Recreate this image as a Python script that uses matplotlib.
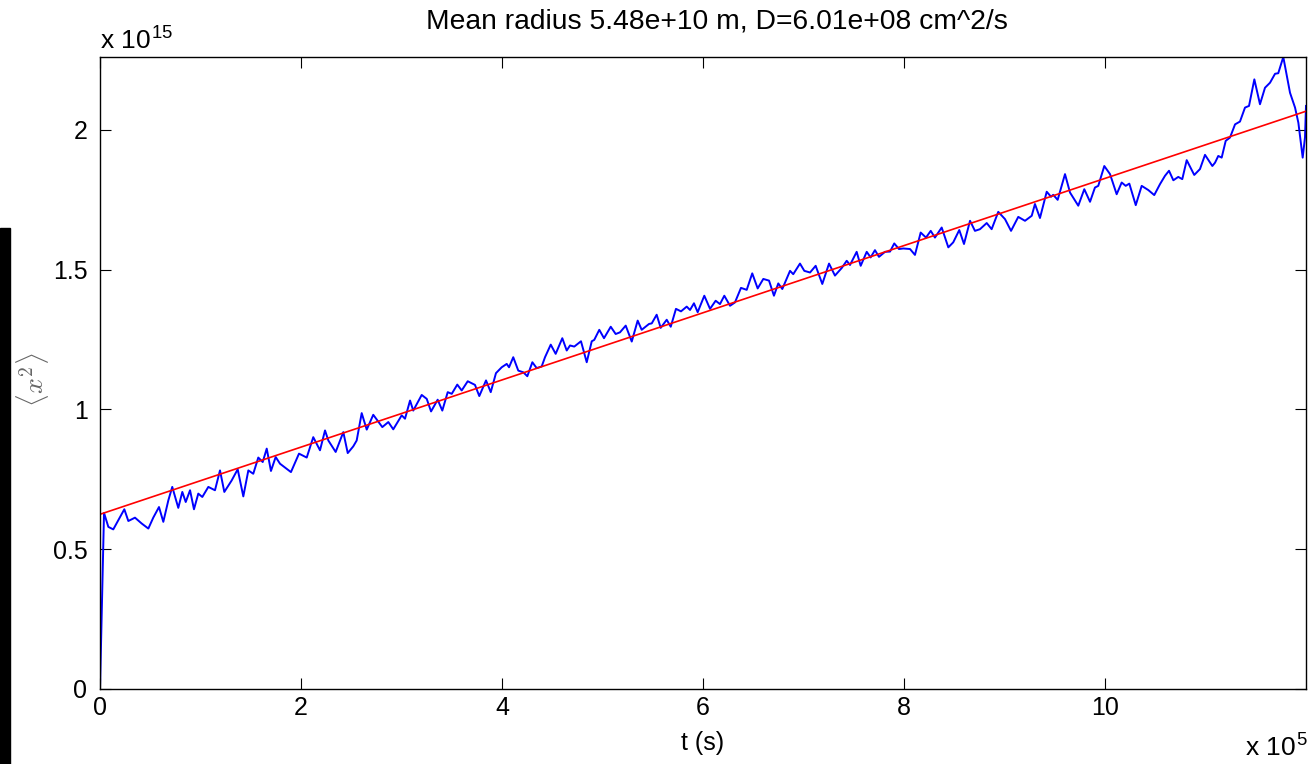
import matplotlib
matplotlib.use("Agg")
import matplotlib.pyplot as plt
from matplotlib.patches import Rectangle

# <x^2> versus time, t in units of 1e5 s, msd in units of 1e15
t_vals = [
    0.0, 0.04, 0.083, 0.132, 0.182, 0.242, 0.282, 0.348, 0.415, 0.481,
    0.530, 0.587, 0.630, 0.680, 0.719, 0.779, 0.819, 0.853, 0.896, 0.935,
    0.978, 1.018, 1.078, 1.144, 1.194, 1.237, 1.310, 1.370, 1.426, 1.476,
    1.525, 1.575, 1.619, 1.659, 1.701, 1.748, 1.791, 1.900, 1.980, 2.057,
    2.122, 2.189, 2.239, 2.272, 2.345, 2.421, 2.465, 2.520, 2.554, 2.604,
    2.654, 2.719, 2.809, 2.869, 2.918, 3.002, 3.035, 3.085, 3.117, 3.201,
    3.251, 3.294, 3.360, 3.406, 3.460, 3.500, 3.555, 3.599, 3.659, 3.731,
    3.774, 3.841, 3.888, 3.940, 3.997, 4.047, 4.070, 4.112, 4.162, 4.212,
    4.252, 4.302, 4.345, 4.395, 4.428, 4.485, 4.534, 4.600, 4.644, 4.677,
    4.719, 4.786, 4.843, 4.893, 4.918, 4.968, 5.015, 5.082, 5.131, 5.174,
    5.231, 5.291, 5.350, 5.390, 5.463, 5.490, 5.539, 5.579, 5.639, 5.679,
    5.731, 5.781, 5.838, 5.871, 5.910, 5.947, 6.013, 6.070, 6.126, 6.169,
    6.212, 6.269, 6.318, 6.378, 6.435, 6.490, 6.544, 6.600, 6.657, 6.706,
    6.749, 6.789, 6.866, 6.898, 6.965, 7.008, 7.065, 7.121, 7.187, 7.254,
    7.313, 7.380, 7.430, 7.463, 7.529, 7.569, 7.629, 7.668, 7.711, 7.751,
    7.811, 7.861, 7.903, 7.950, 7.993, 8.060, 8.109, 8.166, 8.219, 8.266,
    8.308, 8.375, 8.441, 8.490, 8.550, 8.597, 8.657, 8.706, 8.756, 8.823,
    8.872, 8.938, 9.005, 9.065, 9.137, 9.204, 9.271, 9.303, 9.353, 9.420,
    9.463, 9.485, 9.529, 9.602, 9.652, 9.734, 9.794, 9.851, 9.900, 9.933,
    9.993, 10.050, 10.116, 10.166, 10.206, 10.242, 10.306, 10.365, 10.431, 10.490,
    10.547, 10.597, 10.637, 10.680, 10.729, 10.769, 10.813, 10.888, 10.945, 10.995,
    11.068, 11.095, 11.127, 11.161, 11.201, 11.244, 11.294, 11.343, 11.393, 11.433,
    11.486, 11.542, 11.592, 11.642, 11.692, 11.724, 11.774, 11.841, 11.891, 11.924,
    11.967, 11.990, 12.0,
]
msd_vals = [
    0.0, 0.630, 0.580, 0.571, 0.604, 0.643, 0.601, 0.613, 0.592, 0.574,
    0.613, 0.651, 0.598, 0.675, 0.723, 0.648, 0.705, 0.669, 0.711, 0.643,
    0.699, 0.687, 0.723, 0.711, 0.782, 0.705, 0.746, 0.786, 0.689, 0.782,
    0.770, 0.828, 0.812, 0.860, 0.780, 0.830, 0.806, 0.776, 0.842, 0.828,
    0.901, 0.854, 0.925, 0.889, 0.848, 0.919, 0.844, 0.868, 0.889, 0.987,
    0.928, 0.981, 0.937, 0.955, 0.929, 0.979, 0.967, 1.032, 0.996, 1.052,
    1.038, 0.993, 1.035, 0.996, 1.062, 1.056, 1.089, 1.068, 1.101, 1.088,
    1.048, 1.104, 1.062, 1.130, 1.151, 1.163, 1.151, 1.187, 1.139, 1.133,
    1.119, 1.169, 1.148, 1.154, 1.187, 1.232, 1.199, 1.255, 1.211, 1.229,
    1.225, 1.244, 1.169, 1.244, 1.249, 1.285, 1.255, 1.296, 1.270, 1.276,
    1.300, 1.243, 1.318, 1.285, 1.306, 1.308, 1.339, 1.292, 1.321, 1.296,
    1.360, 1.351, 1.368, 1.356, 1.380, 1.348, 1.407, 1.360, 1.389, 1.377,
    1.407, 1.371, 1.383, 1.435, 1.428, 1.487, 1.433, 1.467, 1.461, 1.407,
    1.451, 1.431, 1.496, 1.484, 1.522, 1.496, 1.490, 1.514, 1.449, 1.522,
    1.479, 1.506, 1.532, 1.517, 1.564, 1.514, 1.564, 1.544, 1.570, 1.546,
    1.564, 1.565, 1.594, 1.574, 1.576, 1.574, 1.553, 1.633, 1.615, 1.639,
    1.615, 1.651, 1.580, 1.598, 1.642, 1.592, 1.675, 1.639, 1.645, 1.667,
    1.645, 1.707, 1.681, 1.639, 1.689, 1.675, 1.693, 1.735, 1.685, 1.779,
    1.761, 1.768, 1.750, 1.842, 1.776, 1.729, 1.788, 1.743, 1.794, 1.800,
    1.871, 1.842, 1.770, 1.812, 1.800, 1.808, 1.731, 1.800, 1.785, 1.767,
    1.806, 1.836, 1.854, 1.820, 1.832, 1.824, 1.892, 1.839, 1.860, 1.911,
    1.871, 1.883, 1.907, 1.901, 1.961, 1.973, 2.020, 2.030, 2.080, 2.086,
    2.181, 2.092, 2.151, 2.169, 2.201, 2.203, 2.261, 2.133, 2.080, 2.026,
    1.901, 1.973, 2.086,
]

# linear fit <x^2> = 2 D t + c
fit_t = [0.0, 12.0]
fit_msd = [0.625, 2.067]

x_ticks = [0, 2, 4, 6, 8, 10]
x_ticklabels = ["0", "2", "4", "6", "8", "10"]
y_ticks = [0, 0.5, 1, 1.5, 2]
y_ticklabels = ["0", "0.5", "1", "1.5", "2"]

plt.rcParams['font.family'] = ['Liberation Sans', 'DejaVu Sans']
plt.rcParams['mathtext.fontset'] = 'cm'

fig = plt.figure(figsize=(13.14, 7.64), dpi=100)
ax = fig.add_axes([100 / 1314, 1 - 689 / 764, 1206 / 1314, 632 / 764])

ax.plot(t_vals, msd_vals, color='#0000ff', linewidth=1.4)
ax.plot(fit_t, fit_msd, color='#ff0000', linewidth=1.2)

ax.set_xlim(0, 12.0)
ax.set_ylim(0, max(msd_vals))
ax.set_xticks(x_ticks)
ax.set_xticklabels(x_ticklabels)
ax.set_yticks(y_ticks)
ax.set_yticklabels(y_ticklabels)
ax.tick_params(direction='in', length=8, width=0.8, labelsize=18,
               top=True, right=True, colors='black')
ax.tick_params(axis='y', pad=9)
ax.tick_params(axis='x', pad=5)
for s in ax.spines.values():
    s.set_linewidth(1.0)

fig.text(717 / 1314, 1 - 22 / 764, "Mean radius 5.48e+10 m, D=6.01e+08 cm^2/s",
         fontsize=20.3, ha='center', va='center')
ax.set_xlabel("t (s)", fontsize=18, labelpad=8)
ax.set_ylabel(r"$\langle x^2 \rangle$", fontsize=20, color='#666666')
ax.yaxis.set_label_coords(-0.041, 0.49)

# MATLAB style exponent labels
fig.text(100 / 1314, 1 - 40 / 764, r"x 10$^{\mathregular{15}}$", fontsize=19,
         va='center', ha='left')
fig.text(1308 / 1314, 1 - 747 / 764, r"x 10$^{\mathregular{5}}$", fontsize=19,
         va='center', ha='right')

# dark bar at the left edge of the picture
fig.patches.append(Rectangle((0, 0), 10 / 1314, (764 - 228) / 764,
                             transform=fig.transFigure, color='black'))

fig.savefig("out.png", dpi=100)
